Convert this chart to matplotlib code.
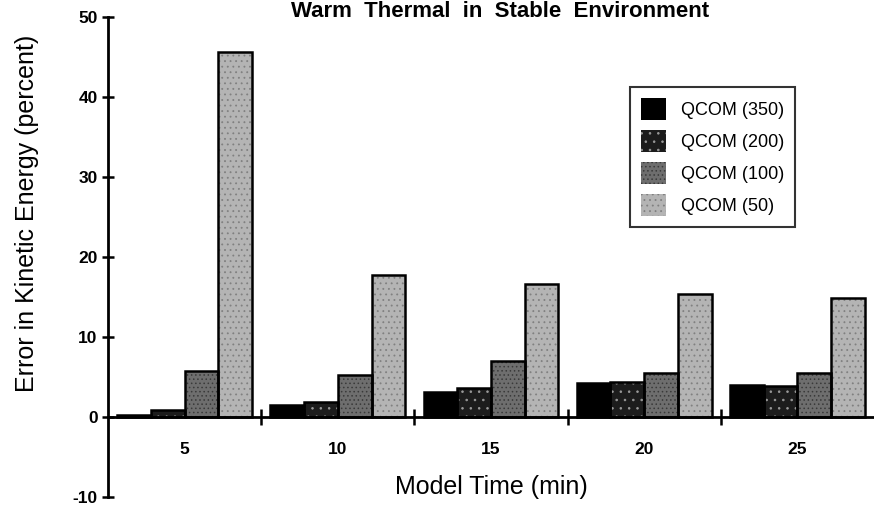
import matplotlib
matplotlib.use('Agg')
import matplotlib.pyplot as plt
from matplotlib.patches import Patch

plt.rcParams['font.family'] = ['Liberation Sans', 'DejaVu Sans']
plt.rcParams['hatch.linewidth'] = 0.6
plt.rcParams['axes.unicode_minus'] = False

times = ['5', '10', '15', '20', '25']
series = ['QCOM (350)', 'QCOM (200)', 'QCOM (100)', 'QCOM (50)']
q350 = [0.2, 1.5, 3.1, 4.2, 4.0]
q200 = [0.9, 1.9, 3.6, 4.4, 3.9]
q100 = [5.7, 5.3, 7.0, 5.5, 5.5]
q50 = [45.6, 17.8, 16.6, 15.4, 14.9]
values = [q350, q200, q100, q50]

faces = ['#000000', '#1c1c1c', '#6e6e6e', '#b4b4b4']
hatchcols = ['#000000', '#9a9a9a', '#3a3a3a', '#808080']
hatches = [None, '..', '....', '...']

fig = plt.figure(figsize=(8.74, 5.08), dpi=100)
ax = fig.add_axes([108 / 874, 11 / 508, 766 / 874, 480 / 508])

w = 0.22
xs = list(range(len(times)))
for i, vals in enumerate(values):
    pos = [x + (i - 1.5) * w for x in xs]
    ax.bar(pos, vals, w, color=faces[i], edgecolor=hatchcols[i],
           hatch=hatches[i], linewidth=0, zorder=2)
    ax.bar(pos, vals, w, fill=False, edgecolor='black', linewidth=1.8, zorder=3)

ax.set_xlim(-0.5, 4.5)
ax.set_ylim(-10, 50)
ax.spines['top'].set_visible(False)
ax.spines['right'].set_visible(False)
ax.spines['bottom'].set_position(('data', 0))
ax.spines['left'].set_linewidth(2)
ax.spines['bottom'].set_linewidth(2)
ax.spines['bottom'].set_zorder(4)

ax.set_yticks([-10, 0, 10, 20, 30, 40, 50])
ax.tick_params(axis='y', direction='inout', length=9, width=1.8, pad=3,
               labelsize=12.5)
for lab in ax.get_yticklabels():
    lab.set_fontweight('bold')

ax.set_xticks(xs)
ax.set_xticklabels(times, fontsize=12.5, fontweight='bold')
ax.tick_params(axis='x', which='major', length=0, pad=18)
ax.set_xticks([0.5, 1.5, 2.5, 3.5], minor=True)
ax.tick_params(axis='x', which='minor', direction='inout', length=12, width=1.8)

ax.set_xlabel('Model Time (min)', fontsize=18)
ax.xaxis.set_label_coords(0.5, 0.045)
ax.set_ylabel('Error in Kinetic Energy (percent)', fontsize=18)
ax.yaxis.set_label_coords(-0.09, 0.59)

fig.text(0.572, 1 - 1 / 508, 'Warm  Thermal  in  Stable  Environment',
         ha='center', va='top', fontsize=16, fontweight='bold')

handles = [Patch(facecolor=faces[i], edgecolor=hatchcols[i], hatch=hatches[i],
                 linewidth=0) for i in range(4)]
leg = ax.legend(handles, series, loc='upper left',
                bbox_to_anchor=(630 / 874, 1 - 87 / 508),
                bbox_transform=fig.transFigure, borderaxespad=0,
                fontsize=13, frameon=True,
                fancybox=False, edgecolor='black', handlelength=1.4,
                handleheight=1.5, labelspacing=0.55, borderpad=0.6,
                handletextpad=0.8)
leg.get_frame().set_linewidth(1.5)

fig.savefig('out.png', dpi=100)
